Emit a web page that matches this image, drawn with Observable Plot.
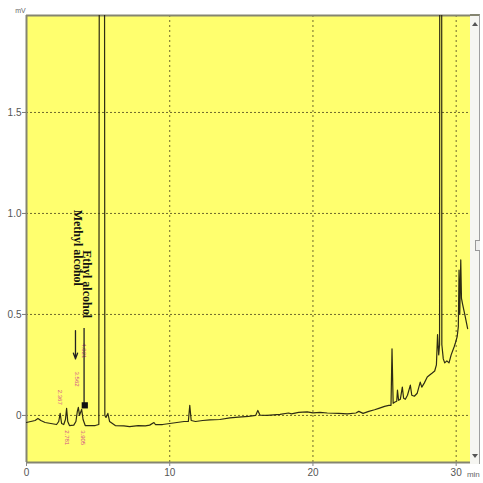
<!DOCTYPE html>
<html>
<head>
<meta charset="utf-8">
<script src="https://cdn.jsdelivr.net/npm/d3@7"></script>
<script src="https://cdn.jsdelivr.net/npm/@observablehq/plot@0.6"></script>
<style>
  html, body { margin: 0; padding: 0; background: #ffffff; }
  #wrap { position: relative; width: 483px; height: 483px; overflow: hidden; }
  #scroll { position: absolute; left: 470px; top: 14px; width: 9px; height: 448px;
            background: #f6f6f2; border-right: 1px solid #a0a0a0; border-top: 2px solid #858570; }
  .arr { position: absolute; left: 2px; width: 0; height: 0; border-left: 3px solid transparent; border-right: 3px solid transparent; }
  #up { top: 6px; border-bottom: 4px solid #555; }
  #dn { bottom: 6px; border-top: 4px solid #555; }
  #thumb { position: absolute; left: 5px; top: 224px; width: 4px; height: 9px; border: 1px solid #999; border-right: none; background: #eee; }
</style>
</head>
<body>
<div id="wrap"></div>
<script>
// Chromatogram trace: retention time (min) and signal (mV)
const times = [0, 0.3, 0.6, 0.8, 1.0, 1.3, 1.7, 2.1, 2.25, 2.35, 2.45, 2.6, 2.72, 2.8, 2.88, 3.0, 3.3, 3.45, 3.55, 3.62, 3.7, 3.85, 3.95, 4.1, 4.5, 4.8, 5.05,
  5.12, 5.42, 5.47, 5.55, 5.68, 5.8, 6.2, 6.8, 7.2, 7.8, 8.3, 8.6, 8.9, 9.0, 9.5, 10, 10.5, 11.0, 11.3, 11.4, 11.5, 11.8, 12.3, 12.8, 13.5, 14.2, 14.8,
  15.5, 16.0, 16.15, 16.3, 16.8, 17.7, 18.3, 18.5, 19.0, 19.6, 20.0, 20.5, 21.0, 21.8, 22.4, 23.0, 23.2, 23.5, 23.9, 24.3, 24.6, 25.0, 25.3, 25.45,
  25.52, 25.6, 25.7, 25.85, 25.9, 25.98, 26.1, 26.24, 26.33, 26.45, 26.6, 26.8, 26.9, 27.08, 27.28, 27.49, 27.6, 27.77, 27.98, 28.15, 28.33, 28.5,
  28.62, 28.7, 28.78, 28.84, 28.87, 28.97, 29.0, 29.1, 29.2, 29.35, 29.5, 29.65, 29.86, 29.95, 30.07, 30.15, 30.2, 30.25, 30.32, 30.37, 30.45,
  30.6, 30.8];
const signal = [-0.035, -0.03, -0.025, -0.015, -0.025, -0.035, -0.04, -0.045, -0.03, 0.01, -0.04, -0.045, -0.02, 0.035, -0.03, -0.05, -0.048, -0.03, 0.02, 0.04, 0.0, 0.03, -0.02, -0.05, -0.05, -0.05, -0.045,
  5, 5, 0.0, -0.01, 0.01, -0.03, -0.05, -0.052, -0.055, -0.05, -0.052, -0.048, -0.035, -0.045, -0.045, -0.04, -0.035, -0.03, -0.03, 0.05, -0.025, -0.03, -0.025, -0.022, -0.02, -0.012, -0.008,
  -0.005, 0.0, 0.025, 0.002, 0.0, 0.005, 0.012, 0.008, 0.015, 0.018, 0.013, 0.015, 0.012, 0.01, 0.008, 0.012, 0.02, 0.01, 0.02, 0.028, 0.035, 0.045, 0.05, 0.05,
  0.33, 0.06, 0.065, 0.07, 0.125, 0.075, 0.08, 0.14, 0.085, 0.08, 0.1, 0.15, 0.1, 0.095, 0.11, 0.165, 0.14, 0.16, 0.19, 0.2, 0.21, 0.22,
  0.25, 0.4, 0.3, 0.35, 5, 5, 0.35, 0.28, 0.26, 0.27, 0.26, 0.3, 0.34, 0.36, 0.39, 0.44, 0.72, 0.5, 0.77, 0.58, 0.55,
  0.5, 0.43];

// Axis ticks
const xTicks = [0, 10, 20, 30];
const yTicks = [0, 0.5, 1.0, 1.5];

// Compound annotations
const compoundNames = ["Methyl alcohol", "Ethyl alcohol"];
const labelTimes = [3.57, 4.2];
const labelSignal = [0.83, 0.65];
const pointerTimes = [3.42, 4.02];
const pointerTop = [0.42, 0.43];
const pointerBottom = [0.28, 0.05];

// Small retention-time peak labels
const rtLabels = ["2.367", "2.781", "3.562", "4.021", "3.905"];
const rtTimes = [2.35, 2.8, 3.55, 3.98, 3.93];
const rtSignal = [0.09, -0.11, 0.18, 0.32, -0.11];

const trace = times.map((t, i) => ({t, v: signal[i]}));
const labels = compoundNames.map((n, i) => ({n, t: labelTimes[i], v: labelSignal[i]}));
const rts = rtLabels.map((s, i) => ({s, t: rtTimes[i], v: rtSignal[i]}));

const yMin = -0.233, yMax = 1.98;
const gridColor = "#6f6a2c";
const borderColor = "#858570";

const chart = Plot.plot({
  width: 483,
  height: 483,
  marginLeft: 26,
  marginRight: 13,
  marginTop: 15,
  marginBottom: 21,
  x: {domain: [0, 31]},
  y: {domain: [yMin, yMax]},
  style: {background: "transparent", fontFamily: "Liberation Sans, Arial, sans-serif", color: "#555"},
  marks: [
    Plot.frame({fill: "#ffff6e", stroke: null}),
    Plot.gridX(xTicks.slice(1), {stroke: gridColor, strokeOpacity: 1, strokeDasharray: "2,3"}),
    Plot.gridY(yTicks, {stroke: gridColor, strokeOpacity: 1, strokeDasharray: "2,2"}),
    Plot.ruleX([0], {stroke: borderColor, strokeWidth: 2}),
    Plot.ruleY([yMax], {stroke: borderColor, strokeWidth: 2}),
    Plot.ruleY([yMin], {stroke: borderColor, strokeWidth: 2}),
    Plot.axisX(xTicks, {tickSize: 4, tickPadding: 2, fontSize: 10, stroke: "#888", label: null}),
    Plot.axisY(yTicks, {tickSize: 4, tickPadding: 1, fontSize: 10, stroke: "#777", label: null,
      tickFormat: d => d === 0 ? "0" : d.toFixed(1)}),
    Plot.text(["min"], {x: 31.2, y: yMin, dy: 12, fontSize: 8, fill: "#666", textAnchor: "middle"}),
    Plot.text(["mV"], {x: 0, y: yMax, dx: -6, dy: -5, fontSize: 7, fill: "#666"}),
    Plot.text(rts, {x: "t", y: "v", text: "s", rotate: 90, fontSize: 6, fill: "#d2508c"}),
    Plot.line(trace, {x: "t", y: "v", stroke: "#2e2c14", strokeWidth: 1.2, clip: true, curve: "linear"}),
    Plot.arrow(labels.slice(0, 1), {x1: () => pointerTimes[0], x2: () => pointerTimes[0], y1: () => pointerTop[0], y2: () => pointerBottom[0],
      stroke: "#222", strokeWidth: 1.3, headLength: 7, headAngle: 40}),
    Plot.ruleX(labels.slice(1), {x: () => pointerTimes[1], y1: () => pointerTop[1], y2: () => pointerBottom[1], stroke: "#222", strokeWidth: 1.3}),
    Plot.dot(labels.slice(1), {x: () => pointerTimes[1] + 0.05, y: () => pointerBottom[1], symbol: "square", r: 3.5, fill: "#111"}),
    Plot.text(labels, {x: "t", y: "v", text: "n", rotate: 90, fontSize: 12, fontWeight: "bold",
      fontFamily: "Liberation Serif, Times New Roman, serif", fill: "#111"})
  ]
});

const wrap = document.getElementById("wrap");
wrap.appendChild(chart);
const sb = document.createElement("div");
sb.id = "scroll";
sb.innerHTML = '<div class="arr" id="up"></div><div id="thumb"></div><div class="arr" id="dn"></div>';
wrap.appendChild(sb);
</script>
</body>
</html>
